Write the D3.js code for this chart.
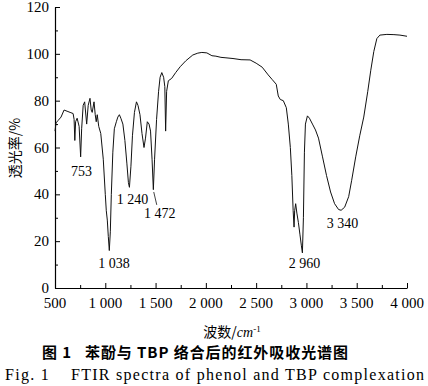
<!DOCTYPE html>
<html>
<head>
<meta charset="utf-8">
<script src="https://cdn.jsdelivr.net/npm/d3@7"></script>
<style>
  body { margin: 0; background: #fff; }
  svg { display: block; }
  .tick-label { font-family: "Liberation Serif", "DejaVu Serif", serif; font-size: 15px; }
  .peak-label { font-family: "Liberation Serif", "DejaVu Serif", serif; font-size: 14px; }
  .caption { white-space: pre; }
</style>
</head>
<body>
<svg id="chart"></svg>
<script>
// Spectrum: wavenumber (cm-1) and transmittance (%)
const wavenumber = [500, 510, 530, 560, 590, 620, 650, 680, 690, 697, 705, 720, 740, 755, 765, 780, 795, 815, 830, 848, 860, 870, 888, 900, 910, 920, 935, 955, 980, 1000, 1010, 1020, 1030, 1040, 1050, 1060, 1075, 1090, 1110, 1125, 1140, 1155, 1175, 1195, 1215, 1230, 1240, 1255, 1270, 1290, 1310, 1325, 1345, 1365, 1385, 1400, 1418, 1435, 1450, 1465, 1478, 1490, 1510, 1530, 1545, 1562, 1580, 1592, 1600, 1610, 1627, 1660, 1700, 1745, 1800, 1870, 1920, 1960, 2010, 2060, 2100, 2150, 2200, 2270, 2350, 2440, 2500, 2560, 2620, 2660, 2700, 2720, 2740, 2770, 2800, 2820, 2840, 2855, 2868, 2877, 2883, 2893, 2905, 2920, 2935, 2950, 2960, 2970, 2980, 2990, 3010, 3030, 3060, 3090, 3120, 3160, 3200, 3240, 3280, 3320, 3345, 3380, 3420, 3450, 3490, 3530, 3570, 3610, 3640, 3670, 3700, 3730, 3800, 3870, 3930, 4000];
const transmittance = [67, 70.5, 71.5, 73, 76, 75.5, 75, 74.5, 72, 63, 71, 72.5, 69, 56, 68, 78, 79.5, 70, 78, 81, 76, 75, 79.5, 74, 71, 74, 69, 66, 55, 40, 33, 29, 22, 16, 24, 40, 58, 68, 71, 73, 74, 72.5, 70, 63, 53, 45, 43, 52, 65, 75, 79.5, 78, 74, 66, 60, 64, 71, 70, 67, 55, 42, 55, 72, 84, 90, 92, 90, 86, 67, 84, 88.5, 89.5, 92, 94.5, 97, 99.5, 100.3, 100.6, 100.4, 99.2, 99, 98.5, 98.3, 98, 97.5, 97.4, 96, 94.3, 91, 89, 87, 82, 80.5, 80, 77, 70, 60, 48, 33, 26, 33, 36, 32, 28, 23, 18, 15, 30, 58, 70, 73.5, 72.5, 70, 67.5, 64, 56, 48, 41, 36, 33.5, 33.2, 34.5, 39, 46, 56, 65, 73, 84, 93, 101, 106.5, 108, 108.3, 108.2, 108, 107.5];

// Peak annotations
const peakLabels = ["753", "1 038", "1 240", "1 472", "2 960", "3 340"];
const peakWn = [753, 1038, 1240, 1472, 2960, 3340];
const peakT = [52, 13, 40, 34, 13, 30];

// Axis ticks
const xTicks = [500, 1000, 1500, 2000, 2500, 3000, 3500, 4000];
const xTickLabels = ["500", "1 000", "1 500", "2 000", "2 500", "3 000", "3 500", "4 000"];
const yTicks = [0, 20, 40, 60, 80, 100, 120];

const width = 428;
const height = 386;
const marginLeft = 55;
const marginRight = 21;
const marginTop = 7;
const marginBottom = 98;

const svg = d3.select("#chart")
    .attr("width", width)
    .attr("height", height)
    .attr("viewBox", [0, 0, width, height]);

svg.append("rect").attr("width", width).attr("height", height).attr("fill", "#fff");

const x = d3.scaleLinear()
    .domain([500, 4000])
    .range([marginLeft, width - marginRight]);

const y = d3.scaleLinear()
    .domain([0, 120])
    .range([height - marginBottom, marginTop]);

// x-axis (ticks point inward, minor every 250)
const xAxis = svg.append("g")
    .attr("transform", `translate(0,${y(0)})`)
    .call(d3.axisBottom(x).tickValues(d3.range(500, 4001, 250)).tickSize(-4).tickSizeOuter(0).tickFormat(""));
xAxis.selectAll(".tick line").attr("y2", d => d % 500 === 0 ? -5 : -3);
xAxis.select(".domain").attr("stroke-width", 1.2);
xAxis.selectAll(".tick text").remove();

svg.append("g")
    .selectAll("text")
    .data(xTicks)
    .join("text")
    .attr("class", "tick-label")
    .attr("x", d => x(d))
    .attr("y", y(0) + 20)
    .attr("text-anchor", "middle")
    .text((d, i) => xTickLabels[i]);

// y-axis (minor every 10)
const yAxis = svg.append("g")
    .attr("transform", `translate(${marginLeft},0)`)
    .call(d3.axisLeft(y).tickValues(d3.range(0, 121, 10)).tickSize(-4).tickSizeOuter(0).tickFormat(""));
yAxis.selectAll(".tick line").attr("x2", d => d % 20 === 0 ? 5 : 3);
yAxis.select(".domain").attr("stroke-width", 1.2);

svg.append("g")
    .selectAll("text")
    .data(yTicks)
    .join("text")
    .attr("class", "tick-label")
    .attr("x", marginLeft - 6)
    .attr("y", d => y(d) + 5)
    .attr("text-anchor", "end")
    .text(d => d);

// spectrum line
const line = d3.line()
    .x((d, i) => x(wavenumber[i]))
    .y(d => y(d));

svg.append("path")
    .datum(transmittance)
    .attr("fill", "none")
    .attr("stroke", "#111")
    .attr("stroke-width", 1)
    .attr("stroke-linejoin", "round")
    .attr("d", line);

// peak labels
const labelDx = [1, 5, 3, 7, 2, 2];
svg.append("g")
    .selectAll("text")
    .data(peakLabels)
    .join("text")
    .attr("class", "peak-label")
    .attr("x", (d, i) => x(peakWn[i]) + labelDx[i])
    .attr("y", (d, i) => y(peakT[i]) + 10)
    .attr("text-anchor", "middle")
    .text(d => d);

// leader line for 1 472
svg.append("line")
    .attr("x1", x(1472) + 1).attr("y1", y(41))
    .attr("x2", x(1472) + 4).attr("y2", y(35.5))
    .attr("stroke", "#111").attr("stroke-width", 0.8);

// axis titles
svg.append("text")
    .attr("transform", `translate(20,148) rotate(-90)`)
    .attr("text-anchor", "middle")
    .style("font-family", "'Noto Sans CJK SC', sans-serif")
    .style("font-size", "14px")
    .text("透光率/%");

const xTitle = svg.append("text")
    .attr("x", 232)
    .attr("y", 337)
    .attr("text-anchor", "middle")
    .style("font-family", "'Noto Sans CJK SC', serif")
    .style("font-size", "14px");
xTitle.append("tspan").text("波数/");
xTitle.append("tspan").style("font-family", "'Liberation Serif', serif").style("font-style", "italic").text("cm");
xTitle.append("tspan").attr("dy", -5).style("font-family", "'Liberation Serif', serif").style("font-size", "9px").text("-1");

// captions
svg.append("text")
    .attr("class", "caption")
    .attr("x", 42)
    .attr("y", 358)
    .attr("textLength", 306)
    .attr("lengthAdjust", "spacing")
    .style("font-family", "'Noto Sans CJK SC', sans-serif")
    .style("font-weight", "bold")
    .style("font-size", "15px")
    .text("图 1   苯酚与 TBP 络合后的红外吸收光谱图");

svg.append("text")
    .attr("class", "caption")
    .attr("x", 5)
    .attr("y", 380)
    .attr("textLength", 419)
    .attr("lengthAdjust", "spacing")
    .style("font-family", "'Liberation Serif', serif")
    .style("font-size", "16px")
    .text("Fig. 1    FTIR spectra of phenol and TBP complexation");
</script>
</body>
</html>
